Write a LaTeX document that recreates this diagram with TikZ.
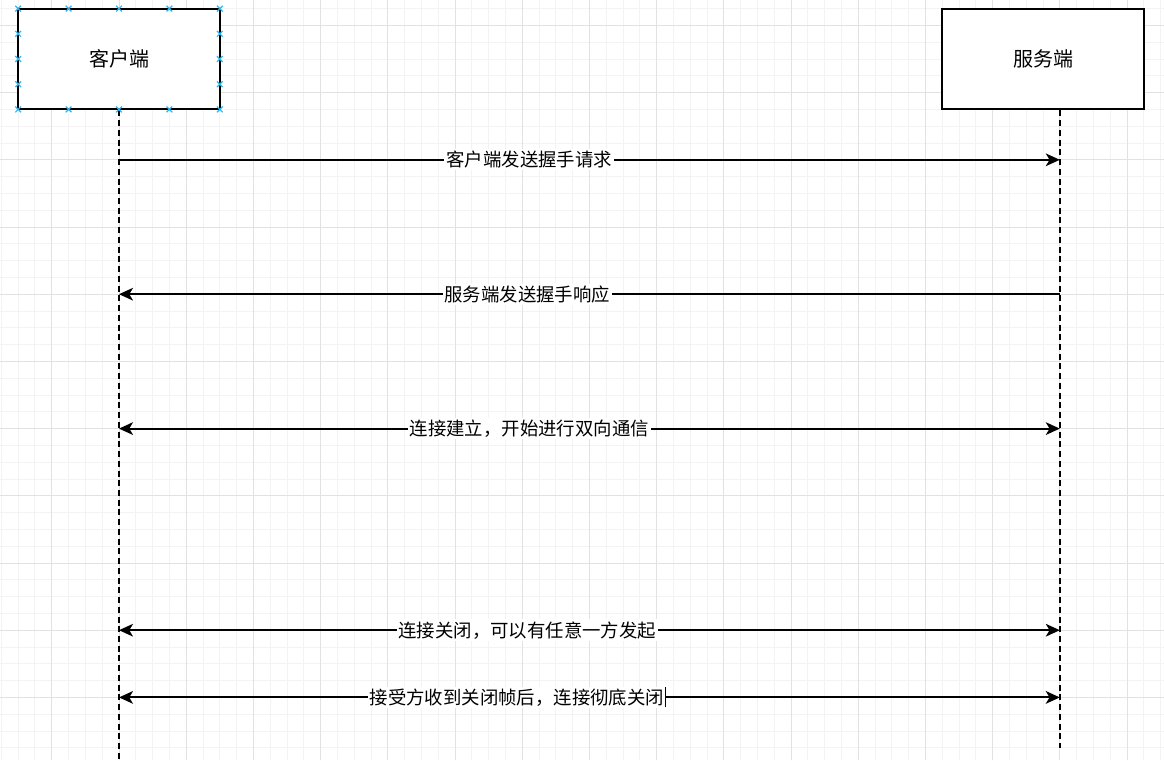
\documentclass[tikz,border=0pt]{standalone}
\usepackage{fontspec}
\setmainfont{Noto Sans CJK SC}
\usepackage{tikz}
\usetikzlibrary{arrows.meta, positioning}

\definecolor{gridminor}{RGB}{243,243,243}
\definecolor{gridmajor}{RGB}{226,226,226}
\definecolor{handleblue}{RGB}{41,182,242}

\tikzset{msgtip/.tip={Stealth[length=10.5pt, width=9.5pt, inset=2.8pt]}}
\newcommand{\handlemark}[1]{%
  \draw[handle] (#1) +(-0.17,-0.17) -- +(0.17,0.17) +(-0.17,0.17) -- +(0.17,-0.17);}

\begin{document}
\begin{tikzpicture}[
  x=12.6pt, y=12.6pt,
  party/.style={rectangle, draw, fill=white, line width=1.5pt,
                minimum width=151.2pt, minimum height=75.6pt, inner sep=0pt,
                font=\fontsize{15}{18}\selectfont},
  lifeline/.style={line width=1.4pt, dash pattern=on 4.5pt off 2.8pt},
  msgline/.style={line width=1.4pt},
  oneway/.style={msgline, -msgtip},
  twoway/.style={msgline, msgtip-msgtip},
  msglabel/.style={fill=white, inner sep=1.5pt,
                   font=\fontsize{13.8}{16}\selectfont},
  handle/.style={draw=handleblue, line width=0.9pt}
]
% canvas and grid
\useasboundingbox (-7.0833,-43.726) rectangle (62.202,1.5119);
\fill[white] (-7.0833,-43.726) rectangle (62.202,1.5119);
\draw[gridminor, line width=0.75pt, step=1] (-7.0833,-43.726) grid (62.202,1.5119);
\draw[gridmajor, line width=0.75pt, step=4] (-7.0833,-43.726) grid (62.202,1.5119);

% parties
\node[party] (client) at (0,-2)  {客户端};
\node[party] (server) at (55,-2) {服务端};

% lifelines
\coordinate (clientend) at (0,-43.726);
\coordinate (serverend) at (56,-43);
\draw[lifeline] (client.south) -- (clientend);
\draw[lifeline] (server.south -| serverend) -- (serverend);

% message ends
\coordinate (c1) at (0,-8);   \coordinate (s1) at (56,-8);
\coordinate (c2) at (0,-16);  \coordinate (s2) at (56,-16);
\coordinate (c3) at (0,-24);  \coordinate (s3) at (56,-24);
\coordinate (c4) at (0,-36);  \coordinate (s4) at (56,-36);
\coordinate (c5) at (0,-40);  \coordinate (s5) at (56,-40);

\draw[oneway] (c1) -- node[msglabel, pos=0.436] (m1) {客户端发送握手请求} (s1);
\draw[oneway] (s2) -- node[msglabel, pos=0.566] (m2) {服务端发送握手响应} (c2);
\draw[twoway] (c3) -- node[msglabel, pos=0.436] (m3) {连接建立，开始进行双向通信} (s3);
\draw[twoway] (c4) -- node[msglabel, pos=0.434] (m4) {连接关闭，可以有任意一方发起} (s4);
\draw[twoway] (c5) -- node[msglabel, pos=0.423] (m5) {接受方收到关闭帧后，连接彻底关闭} (s5);

% text cursor
\draw[line width=0.9pt] ([xshift=-1pt, yshift=-7.5pt]m5.east) -- ([xshift=-1pt, yshift=7.5pt]m5.east);

% connection handles on the client box
\foreach \hx in {-6,-3,0,3,6} {
  \handlemark{\hx,1}
  \handlemark{\hx,-5}
}
\foreach \hy in {-0.5,-2,-3.5} {
  \handlemark{-6,\hy}
  \handlemark{6,\hy}
}
\end{tikzpicture}
\end{document}
